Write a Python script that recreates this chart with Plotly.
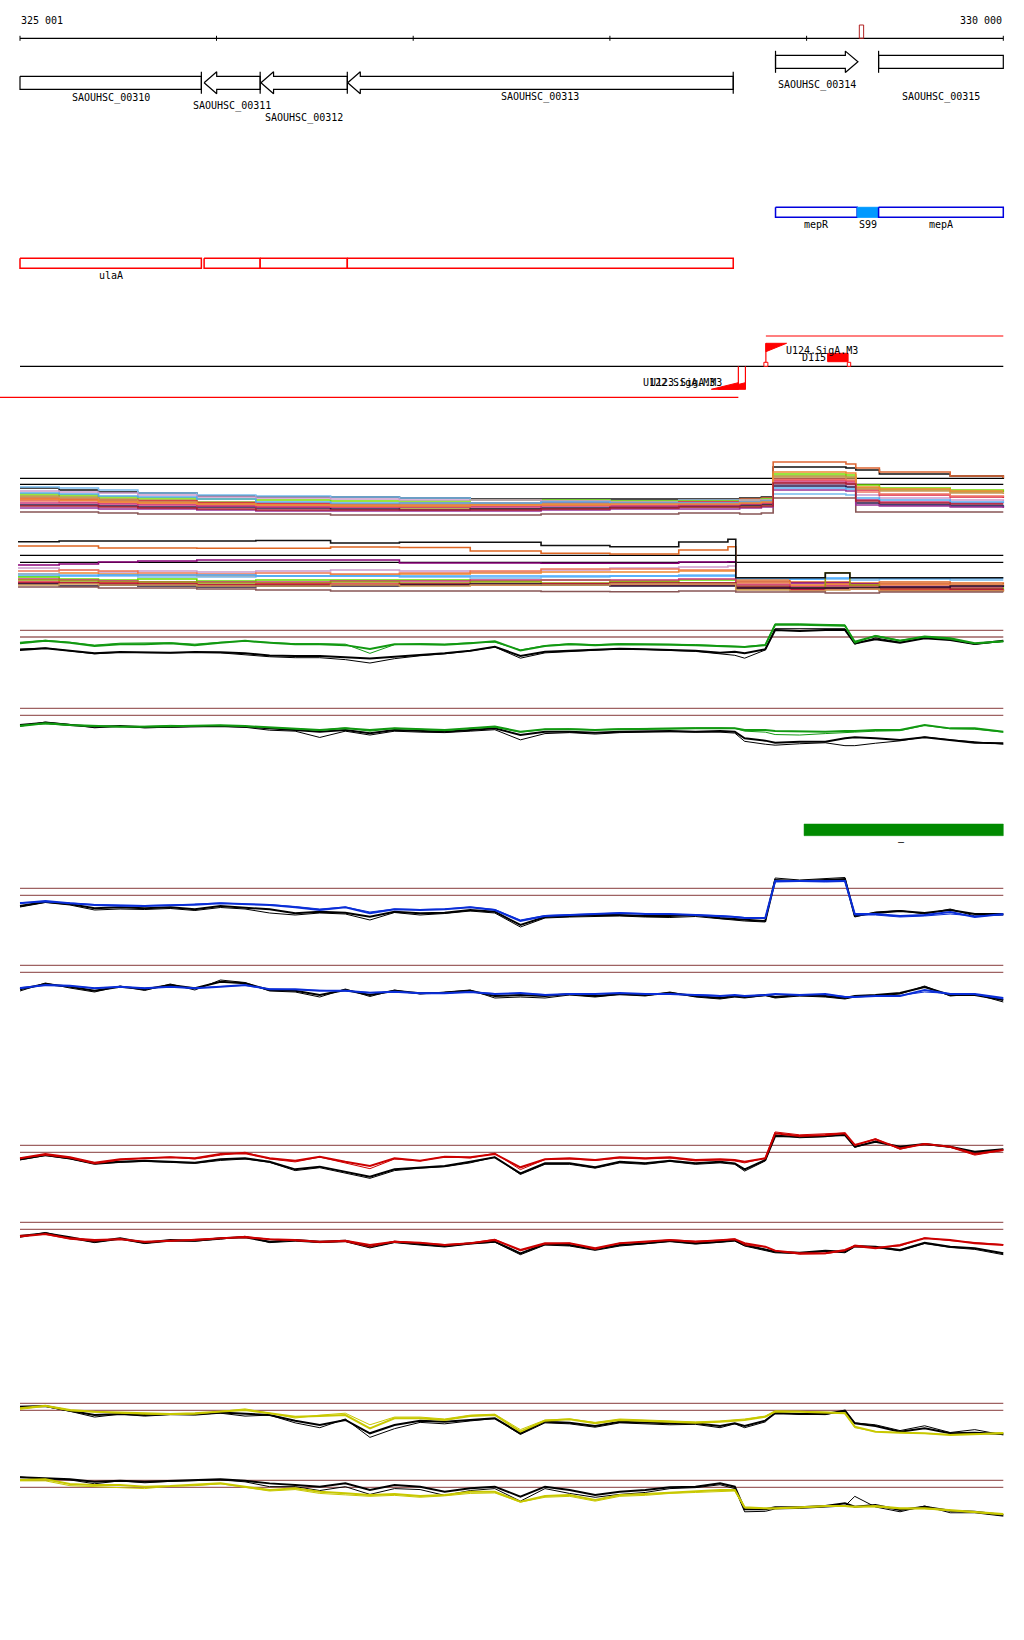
import plotly.graph_objects as go

# ======================= DATA =======================
VIEW_START, VIEW_END = 325001, 330000
RULER_TICKS = [325001, 326000, 327000, 328000, 329000, 330000]
RULER_LABEL_LEFT = "325 001"
RULER_LABEL_RIGHT = "330 000"
HIGHLIGHT = [329268, 329290]

GENE_NAMES = ["SAOUHSC_00310", "SAOUHSC_00311", "SAOUHSC_00312",
              "SAOUHSC_00313", "SAOUHSC_00314", "SAOUHSC_00315"]
GENE_START = [324500, 325937, 326226, 326667, 328842, 329366]
GENE_END = [325923, 326222, 326665, 328627, 329261, 330600]
GENE_STRAND = ["-", "-", "-", "-", "+", "+"]

REGULON_NAMES = ["mepR", "S99", "mepA"]
REGULON_START = [328842, 329257, 329366]
REGULON_END = [329257, 329366, 330600]
REGULON_FILLED = [False, True, False]

OPERON_NAMES = ["ulaA", "", "", ""]
OPERON_START = [324500, 325937, 326222, 326665]
OPERON_END = [325923, 326222, 326665, 328627]

TSS_NAMES = ["U124.SigA.M3", "U123.SigA.M3", "U122.SigA.M3"]
TSS_POS = [328793, 328689, 328653]
TSS_STRAND = ["+", "-", "-"]
TERM_NAME = "D115"
TERM_START, TERM_END = 329107, 329211
TRANSCRIPT_START = [328793, 324400]
TRANSCRIPT_END = [330000, 328653]
TRANSCRIPT_STRAND = ["+", "-"]

PEAK_START, PEAK_END = 328987, 330000
PEAK_LABEL = "–"

# --- multi-condition bundles (signal, arbitrary units) ---
BUNDLE_A_POS = [325001, 325200, 325400, 325600, 325900, 326200, 326580, 326930, 327290, 327650,
                328000, 328350, 328660, 328770, 328830, 329200, 329250, 329370, 329730, 330000]
BUNDLE_A_REF = [41.7, 35.7]
BUNDLE_A = {
    "#111111": [32,30,28,27,24,23,23,22,21,21,21,21,22,23,53,52,50,46,44,41],
    "#DD6633": [20,20,19,18,17,17,16,17,17,18,19,20,21,22,58,56,52,48,44,42],
    "#77BBEE": [33,32,30,27,25,24,23,22,20,20,19,20,20,21,26,25,20,16,15,15],
    "#77DD00": [26,25,23,22,21,20,19,19,20,20,19,19,20,21,46,45,35,32,30,28],
    "#999922": [24,23,21,20,18,15,14,12,11,11,12,13,14,15,44,43,32,30,28,28],
    "#CC99CC": [29,28,27,25,23,22,21,20,20,19,18,18,20,20,36,35,25,22,20,19],
    "#DD2244": [22,21,20,19,17,16,15,15,16,17,17,18,18,19,40,39,30,25,23,22],
    "#221144": [15,15,14,13,13,12,11,10,11,12,13,14,15,16,34,33,17,15,14,13],
    "#885555": [8,8,7,6,6,6,5,5,5,6,6,7,6,7,22,22,8,8,8,8],
    "#EE7766": [19,18,17,16,15,14,13,14,14,15,15,16,17,17,41,40,28,26,24,23],
    "#CC3377": [17,17,16,15,14,13,13,13,13,14,14,15,16,17,38,37,20,18,17,17],
    "#CC9955": [23,22,20,18,16,15,15,15,16,16,17,17,18,19,43,42,31,29,27,26],
    "#993399": [12,12,11,11,10,9,9,9,9,10,11,11,12,13,30,29,15,14,13,12],
    "#55AAEE": [27,26,24,23,21,18,17,17,17,18,17,17,18,19,32,31,22,20,18,17],
    "#EE8833": [21,20,18,17,16,15,14,14,15,15,16,16,17,18,48,47,33,31,29,29],
    "#AA2233": [14,14,13,12,11,10,10,10,10,11,12,13,13,14,37,36,19,17,16,16],
}

BUNDLE_B_POS = [324991, 325200, 325400, 325600, 325900, 326200, 326580, 326930, 327290, 327650,
                328000, 328350, 328600, 328640, 328915, 329095, 329220, 329370, 329730, 330000]
BUNDLE_B_REF = [44.7, 37.7]
BUNDLE_B = {
    "#DD6622": [54,54,52,52,51.7,51.7,53,52.5,49,46.7,46,50,53.3,20,18,18,17,18,17,16],
    "#880077": [35,36,38,39,40,40,40,37,37,36.7,36.7,38,38.3,18,17,17,16,16,15,15],
    "#CC99CC": [32,30,28,29,28,29,30,29,28,30,32,33,34,17,15,15,15,15,15,15],
    "#EE7755": [29,30,29,27,26,27,26,27,29,31,31,30,30,16,14,15,14,15,14,14],
    "#EE8833": [26,27,26,25,24,24,25,26,27,28,28,29,29,18,15,16,15,16,15,14],
    "#77BBEE": [26,25,24,23,23,24,24,23,22,23,24,25,25,21.5,21,21,20,21,20,20],
    "#44AAFF": [24,24,25,25,25,24,24,24,24,24,24,24,24,22,21,22,22,22,22,22],
    "#66DD00": [23,21,20,21,19,20,20,20,19,20,19,20,20,14,12,13,13,12,12,11],
    "#CC3377": [21,20,19,18,18,18,19,19,20,20,20,21,21,15,13,14,14,13,13,13],
    "#999911": [20,19,18,18,17,17,18,17,18,17,18,17,17,11,12,27.3,15,10,10,9],
    "#DD2233": [18,17,17,16,15,16,16,15,15,16,15,15,15,12,10,11,11,10,10,9],
    "#AA1133": [17,17,16,16,15,15,15,16,16,16,17,17,17,13,11,12,12,12,11,11],
    "#221133": [16,14,15,14,13,14,14,15,16,15,14,14,14,12,12,12,12,13,14,13],
    "#CC9955": [15,16,15,15,14,14,15,14,15,15,16,16,16,10,9,10,11,9,9,8],
    "#885555": [13,13,12,12,11,10,9,9,9,8.5,8.3,9,9,8,8,7,7,8,8,8],
    "#111111": [58.3,59,59,59,59,59.5,57,57.7,57.7,54.5,53.3,58,60.7,22.3,22.3,27,22.3,22.3,22.3,22.3],
}

# --- paired-strand profiles (signal, arbitrary units) ---
PROFILE_POS = [325001, 325130, 325255, 325380, 325510, 325635, 325765, 325890, 326020, 326145,
               326270, 326400, 326525, 326655, 326780, 326905, 327035, 327160, 327290, 327415,
               327545, 327670, 327795, 327925, 328050, 328180, 328305, 328435, 328560, 328635,
               328685, 328790, 328840, 328965, 329095, 329195, 329245, 329350, 329475, 329600,
               329730, 329855, 330000]

GREEN_TOP_REF = [29.3, 22.4]
GREEN_TOP = {
    "color": [16,18.5,16.5,13,15,15,16,14,16.5,18.5,16.5,15,15,14,10,15,15,14.5,16,18,8.5,13,15,14,15,15,14.5,14,13,12.5,12,14,35,35,34.5,34,17.5,23.5,18.5,23,21,16,18],
    "color_b": [17,19,17,14,16,16,16.5,15,17,18,17,15.5,15.5,15,5.5,14.5,15.5,15,16.5,17,9,13.5,15.5,14.5,15.5,15.5,15,14.5,13.5,13,12.5,14.5,36,36,35,35,16,24,19,22.5,20,15.5,17.5],
    "ref": [9,10.7,8.3,5.5,6.9,6.6,6.2,6.9,6.6,5.5,3.4,2.8,2.8,1.4,0.3,2.1,4.1,5.5,8.3,12.4,2.8,7.2,8.3,9.7,10.3,9.7,9,8.3,6.2,7.2,5.5,9.7,29.7,28.6,29.7,29.7,15.9,20,16.6,21,19.3,15.2,18.6],
    "ref_b": [10,11,8,5,6.5,6,6,6.5,6,4,2,1,1,-1,-4.5,0,3,5,8,12,0.5,6,7.5,9,10,9.5,8.5,7.5,5,3.5,0.5,9,31,31,31.5,31,15,21.5,17,21.5,19.5,15,18],
}
GREEN_BOT_REF = [48.6, 41.4]
GREEN_BOT = {
    "color": [30.3,33.1,31.4,30.3,29.7,29.7,30.3,30.3,31,30.3,29,27.9,26.2,27.9,26.2,27.9,26.9,26.2,27.9,29.7,24.5,26.9,26.9,26.2,26.9,27.6,27.6,27.9,27.9,27.9,26.2,26.2,25.2,24.5,24.5,25.2,25.2,26.2,26.2,31.4,27.9,27.9,24.5],
    "color_b": [31,32.5,31,30,30,30,31,30.5,31,30,28.5,27.5,26,28.5,25,28,27,25.5,28,29,24,27,27.5,26.5,27.5,28,28,28.5,28.5,28,25,24,21.5,21,22.5,23,24,25,25.5,31,27.5,27,24],
    "ref": [31.4,33.8,31.4,29.7,30.3,29,29.7,30.3,30.3,29.7,27.9,26.2,24.5,26.2,22.8,26.2,25.5,24.5,26.2,27.9,21,24.5,24.5,23.4,24.5,25.2,25.2,24.5,25.2,24.5,17.6,15.2,13.1,14.1,14.1,17.6,18.6,17.6,15.9,18.6,15.9,13.1,12.4],
    "ref_b": [30,34.5,32,28.5,30,28.5,29,30,30,29,26,25,18.5,25,21,25,24,23.5,25,26.5,16,22.5,23.5,22,23.5,24,24.5,24,24,23,14.5,11.5,10.5,12,13,10,10,12.5,15,19,16,14,11.5],
}
BLUE_TOP_REF = [41.7, 34.7]
BLUE_TOP = {
    "color": [26.7,29,26.7,25,24.3,24,24.7,25.3,26.7,25.7,25,22.7,20,22.7,16.7,20.7,20,20.7,22.7,20,9,14,15,16,17,16,16,15,14,13,12,12,49,49,48.5,49,16,16,14,15,18,13,16],
    "color_b": [27.5,28,27,25.5,25,24.5,25,26,27,26,25.5,23.5,21,23,18,21,20.5,21,23,20.5,10,14.5,15.5,16.5,17,16.5,16,15.5,14.5,13.5,12.5,12.5,48,48.5,48,48.5,15,15,13,14,16,14,15],
    "ref": [24,28.3,26,21.7,22.7,21.7,22.7,20.7,24,22.7,20.7,16.7,18.3,17.3,13.3,18.3,16.7,17.3,20,18.3,5,13,14,15,15,14,14,15,12,11,10,9,50,49,50,51,14,17,19,17,20,16,16],
    "ref_b": [23,27.5,25,20,21,20.5,21.5,19.5,22.5,21,17,15,17,16,10,17.5,15,16.5,19,17,3,12,13,13.5,14,13,12.5,13.5,11,10,9,8,52,50,51.5,52.5,13,18,19.5,16,21,14,15],
}
BLUE_BOT_REF = [44.7, 37.7]
BLUE_BOT = {
    "color": [21.7,25,24.3,21.7,23.3,21.7,23.3,21.7,23.3,25,20.7,20.7,19.3,19.3,17.3,18.3,16.7,16.7,18,16,17,15,16,16,17,16,16,15,14,15,14,15,16,15,16,13,13,14,14,20,16,16,12],
    "color_b": [22.5,24.5,24,22,23,22,23,22,23.5,24.5,21,20.5,19.5,19,17.5,18,17,17,18,16.5,16.5,15.5,15.5,16.5,16.5,16.5,15.5,15.5,14.5,14.5,14.5,14.5,15.5,15.5,15.5,13.5,13.5,13.5,14.5,18,16.5,15.5,11],
    "ref": [20.7,26,23.3,19.3,23.3,20.7,25,21.7,28.3,26.7,20,19.3,15,20,15,19.3,16.7,17.3,19.3,14,15,14,16,14,16,15,17,14,12,14,13,15,13,15,14,12,14,15,17,23,15,15,10],
    "ref_b": [19,27,22,18,24,19.5,26,20,30,27.5,19,18,13,21,13.5,20,16,18,20,12,13,12,15,13,15.5,14,18,13,11,13,12,14.5,12,14,13,11,13,14,16,24,14,16,8],
}
RED_TOP_REF = [29.1, 21.9]
RED_TOP = {
    "color": [15.7,20.2,16.7,11.2,14.7,15.7,16.7,15.7,20.2,20.9,15.7,13.3,17.4,12.2,7.8,15.7,13.3,17.4,16.7,20.2,6.4,14.7,15.7,14,16.7,15.7,16.7,14,14.7,14,12.2,15.7,41.6,38.8,39.8,41.6,29.5,35.3,26,30.5,27.8,20.2,24.3],
    "color_b": [16,19,16,10,14,16,17,15,19,22,15,12,17,11,5,15,13,17.5,16,21,4,14.5,15,13.5,16,15,16,13,14,13,11,16,43,40,41,42,29,36,25,31,27,19,24],
    "ref": [14.7,19.1,15.7,10.5,12.2,13.3,12.2,11.2,14.7,15.7,12.2,4.3,7.1,1.9,-3.3,4.3,6.4,7.8,12.2,16.7,0.2,10.5,10.5,6.4,12.2,10.5,13.3,10.5,12.2,10.5,4.3,14,38.8,38.1,38.8,39.8,27.8,32.9,27.8,30.5,27.8,22.6,25],
    "ref_b": [14,18.5,15,9.5,11.5,12.5,11.5,10.5,13.5,15,11.5,3,6,0.5,-5,3,5.5,7,11,17,-1,9.5,9.5,5.5,11,9.5,12.5,9.5,11,9.5,2.5,13,40,37,38,40.5,27,33.5,27,30,27,21,25],
}
RED_BOT_REF = [44.5, 37.2]
RED_BOT = {
    "color": [29.7,32.4,27.9,26.2,26.9,24.5,25.5,26.2,27.9,29,26.9,26.2,24.5,25.5,21,24.5,23.4,21,22.8,26.2,15.9,22.8,22.8,17.6,22.8,24.5,26.2,24.5,26.2,26.9,22.8,19.3,15.2,12.4,12.4,15.9,20,17.6,21,27.9,26.2,22.8,21],
    "color_b": [31,32,27,25,27.5,24,25,27,28,30,27,25.5,24,24.5,19,25,23,21.5,23,27,15,22,23,16.5,23,24,26.5,25,26,27.5,21,19,15,11.5,12,15,21,18.5,20,28.5,25.5,23.5,21.5],
    "ref": [30.3,33.1,29,24.5,27.9,23.4,26.2,25.5,27.9,29,24.5,26.2,24.5,25.5,19.3,24.5,22.1,20,22.8,24.5,12.4,22.1,21,16.6,21,22.8,25.5,22.8,24.5,26.2,21,16.6,14.1,13.1,15.2,14.1,20,19.3,15.9,23.4,19.3,17.6,12.4],
    "ref_b": [29,34,28,23.5,27,22.5,25,25,27,30,23.5,25,23.5,24.5,18,23.5,21,19,22,24,11,21,20,15.5,20,22,24.5,22,23.5,25,20,15.5,13,12,14.5,13,19,18.5,15,22.5,18.5,16.5,11],
}
YELLOW_TOP_REF = [36.2, 29.0]
YELLOW_TOP = {
    "color": [31,33.8,29.3,27.6,26.6,25.9,25.2,25.9,27.6,29.3,25.9,22.4,23.1,24.1,10.3,20.7,20.7,19,23.1,24.1,6.9,18.3,19.7,15.5,19,18.3,17.2,16.2,17.2,18.3,19,22.4,27.6,27.6,26.6,25.9,12.1,6.9,5.9,5.2,3.4,4.5,5.2],
    "color_b": [30,33,28.5,27,26,25,24.5,25,28,30.5,26,21,24,26,14,22,22,20,24,25,9,19,20,16.5,20,19,18,17,18,19,20,23,28.5,28,27,26.5,11,7,6,5,4,4.5,6],
    "ref": [32.8,33.4,28.6,24.1,25.2,24.1,25.2,25.2,26.6,25.2,24.1,18.3,13.8,19,5.2,13.8,18.3,17.2,19,20.7,5.2,17.2,16.2,12.8,17.2,16.2,15.5,15.5,12.8,15.5,12.8,18.3,25.9,25.2,25.2,28.6,15.5,12.8,6.9,10.3,5.2,5.9,4.5],
    "ref_b": [33,33,28,22,25,23,24.5,24,26,23,24,16,11,20,1,10,16.5,15,18,20.5,4,16,15,11.5,16,15,14,14.5,11,15,11,17,27,25,24.5,29,16,14,8,13,6,9,3.5],
}
YELLOW_BOT_REF = [41.6, 34.3]
YELLOW_BOT = {
    "color": [41.9,42.6,37.8,36.7,36.7,35,35.7,36.7,38.4,35,31.6,33.3,29.8,28.1,26.4,27.4,25.3,26.4,29.8,29.8,19.5,25.3,26.4,21.2,26.4,27.4,28.8,29.8,31.6,31.6,13.6,12.6,12.6,13.6,15,15,14.3,15,12.6,12.6,10.9,9.1,6.7],
    "color_b": [41,41,36,35,34,33,35.5,36,38,34,30.5,32,28,26.5,25,26,24,25.5,28,28.5,19,24,25,20,25,26,28,29,30,30.5,13,12,12,13,14.5,14.5,14,14,12,12,10,8.5,6],
    "ref": [44.7,43.6,42.6,40.2,41.2,40.2,41.2,41.9,42.6,41.2,38.4,36.7,35,38.4,31.6,36.7,35,29.8,33.3,35,24.7,35,31.6,26.4,29.8,31.6,34.3,35,38.4,35,11.6,11.6,13.6,13.6,15,17.8,14.3,16,10.9,14.3,10.2,9.1,5.7],
    "ref_b": [45,43,42,38,41,39,40.5,41,42,40,35,35,31,35,27,33,32,26,31,33,20,33,28,24,27,29,33,34,37,33,9,9.5,12,12.5,14,15,25,14,9,15,8,8,4.5],
}

# ======================= LAYOUT CONSTANTS =======================
W, H = 1024, 1640
PX_L, PX_R = 20.0, 1003.3
BPP = (VIEW_END - VIEW_START) / (PX_R - PX_L)     # bp per pixel
X0 = VIEW_START - PX_L * BPP
X1 = X0 + W * BPP
FONT = "DejaVu Sans Mono"
BROWN = "#9E6262"

RULER_Y = 38.3
GENE_ROW_Y = {"-": 82.8, "+": 61.8}
GENE_LABEL_Y = [97.7, 106.3, 117.7, 97.3, 85.3, 97.3]
REG_BOX = (207.3, 217.3)
REG_LABEL_Y = 224.3
OPER_BOX = (258.3, 268.3)
OPER_LABEL_Y = 275.3
TSS_LINE_Y = 366.3
TRANSCRIPT_Y = {"+": 336.0, "-": 397.3}

fig = go.Figure()
annotations = []
extra_axes = {}
_axn = [1]


def new_axis(anchor_v, anchor_px, ppu, lo, hi):
    _axn[0] += 1
    n = _axn[0]
    yb = anchor_px + (anchor_v - lo) * ppu
    yt = anchor_px + (anchor_v - hi) * ppu
    extra_axes["yaxis%d" % n] = dict(domain=[1 - yb / H, 1 - yt / H], range=[lo, hi],
                                     anchor="x", visible=False, fixedrange=True)
    return "y%d" % n


def line(xs, ys, color, width=1.0, yaxis="y", shape="linear"):
    fig.add_trace(go.Scatter(x=xs, y=ys, mode="lines", yaxis=yaxis,
                             line=dict(color=color, width=width, shape=shape),
                             hoverinfo="skip", showlegend=False))


def poly(xs, ys, edge, fill, width=1.2):
    fig.add_trace(go.Scatter(x=list(xs) + [xs[0]], y=list(ys) + [ys[0]], mode="lines",
                             fill="toself", fillcolor=fill,
                             line=dict(color=edge, width=width),
                             hoverinfo="skip", showlegend=False))


def text(x, y, s, anchor="center", color="black", size=10):
    annotations.append(dict(x=x, y=y, xref="x", yref="y", text=s, showarrow=False,
                            xanchor=anchor, yanchor="middle", borderpad=0,
                            font=dict(family=FONT, size=size, color=color)))


def clip(a, b):
    return max(a, VIEW_START), min(b, VIEW_END)


# ---------------- ruler ----------------
line([VIEW_START, VIEW_END], [RULER_Y, RULER_Y], "black", 1.2)
for t in RULER_TICKS:
    line([t, t], [RULER_Y - 2.5, RULER_Y + 2.5], "black", 1)
text(VIEW_START, 20, RULER_LABEL_LEFT, "left")
text(VIEW_END, 20, RULER_LABEL_RIGHT, "right")
poly([HIGHLIGHT[0], HIGHLIGHT[1], HIGHLIGHT[1], HIGHLIGHT[0]],
     [25, 25, RULER_Y, RULER_Y], "#B22222", "rgba(0,0,0,0)", 1)

# ---------------- genes ----------------
HEAD = 12.6 * BPP
for name, s, e, strand, ly in zip(GENE_NAMES, GENE_START, GENE_END, GENE_STRAND, GENE_LABEL_Y):
    cy = GENE_ROW_Y[strand]
    lo, hi = clip(s, e)
    if strand == "-" and s >= VIEW_START:
        xs = [lo, lo + HEAD, lo + HEAD, hi, hi, lo + HEAD, lo + HEAD]
        ys = [cy, cy - 11, cy - 6.5, cy - 6.5, cy + 6.5, cy + 6.5, cy + 11]
    elif strand == "+" and e <= VIEW_END:
        xs = [lo, hi - HEAD, hi - HEAD, hi, hi - HEAD, hi - HEAD, lo]
        ys = [cy - 6.5, cy - 6.5, cy - 10.7, cy, cy + 10.7, cy + 6.5, cy + 6.5]
    else:
        xs = [lo, hi, hi, lo]
        ys = [cy - 6.5, cy - 6.5, cy + 6.5, cy + 6.5]
    poly(xs, ys, "black", "white", 1.2)
    start = e if strand == "-" else s
    if VIEW_START <= start <= VIEW_END:
        line([start, start], [cy - 11, cy + 11], "black", 1.2)
    text((lo + hi) / 2, ly, name)

# ---------------- regulon features (blue) ----------------
for name, s, e, filled in zip(REGULON_NAMES, REGULON_START, REGULON_END, REGULON_FILLED):
    lo, hi = clip(s, e)
    y0, y1 = REG_BOX
    if filled:
        poly([lo, hi, hi, lo], [y0, y0, y1, y1], "#0099FF", "#0099FF", 1)
    else:
        poly([lo, hi, hi, lo], [y0, y0, y1, y1], "#0000DD", "white", 1.5)
    text((lo + hi) / 2, REG_LABEL_Y, name)

# ---------------- operon features (red) ----------------
for name, s, e in zip(OPERON_NAMES, OPERON_START, OPERON_END):
    lo, hi = clip(s, e)
    y0, y1 = OPER_BOX
    poly([lo, hi, hi, lo], [y0, y0, y1, y1], "#FF0000", "white", 1.5)
    if name:
        text((lo + hi) / 2, OPER_LABEL_Y, name)

# ---------------- transcription start sites ----------------
line([VIEW_START, VIEW_END], [TSS_LINE_Y, TSS_LINE_Y], "black", 1.2)
for s, e, strand in zip(TRANSCRIPT_START, TRANSCRIPT_END, TRANSCRIPT_STRAND):
    ty = TRANSCRIPT_Y[strand]
    line([s, e], [ty, ty], "#FF0000", 1.2)
SQ = 2.0 * BPP
for name, pos, strand in zip(TSS_NAMES, TSS_POS, TSS_STRAND):
    if strand == "+":
        top = TSS_LINE_Y - 23
        line([pos, pos], [top, TSS_LINE_Y], "#FF0000", 1.2)
        poly([pos, pos + 20.7 * BPP, pos], [top, top, top + 8.4], "#FF0000", "#FF0000", 1)
        poly([pos - SQ, pos + SQ, pos + SQ, pos - SQ],
             [TSS_LINE_Y - 4, TSS_LINE_Y - 4, TSS_LINE_Y, TSS_LINE_Y], "#FF0000", "white", 1)
        text(pos + 19 * BPP, top + 7, name, "left")
    else:
        bot = TSS_LINE_Y + 23
        line([pos, pos], [TSS_LINE_Y, bot], "#FF0000", 1.2)
        poly([pos, pos - 27 * BPP, pos], [bot, bot, bot - 6.6], "#FF0000", "#FF0000", 1)
        text(pos - 22 * BPP, bot - 6.6, name, "right")
poly([TERM_START, TERM_END, TERM_END, TERM_START], [353.3, 353.3, 361.7, 361.7],
     "#FF0000", "#FF0000", 1)
poly([TERM_END - SQ * 0.4, TERM_END + SQ * 1.3, TERM_END + SQ * 1.3, TERM_END - SQ * 0.4],
     [TSS_LINE_Y - 4, TSS_LINE_Y - 4, TSS_LINE_Y, TSS_LINE_Y], "#FF0000", "white", 1)
text(TERM_START - 1 * BPP, 357.3, TERM_NAME, "right")

# ---------------- bundles ----------------
ya = new_axis(0, 520, 1.0, -2, 64)
for v in BUNDLE_A_REF:
    line([VIEW_START, VIEW_END], [v, v], "black", 1.3, ya)
for col, vals in BUNDLE_A.items():
    line(BUNDLE_A_POS, vals, col, 1.6, ya, "hv")

yb = new_axis(0, 600, 1.0, 2, 66)
for v in BUNDLE_B_REF:
    line([VIEW_START, VIEW_END], [v, v], "black", 1.3, yb)
for col, vals in BUNDLE_B.items():
    line(BUNDLE_B_POS, vals, col, 1.6, yb, "hv")

# ---------------- green bar (peak) ----------------
poly([PEAK_START, PEAK_END, PEAK_END, PEAK_START], [824, 824, 835.7, 835.7],
     "#008A00", "#008A00", 0.5)
text((PEAK_START + PEAK_END) / 2 - 2 * BPP, 841.3, PEAK_LABEL)

# ---------------- paired profiles ----------------
PPU = 2.9 / 3.0
PANELS = [
    (GREEN_TOP, GREEN_TOP_REF, "#119911", (40, 620, PPU, -10, 45)),
    (GREEN_BOT, GREEN_BOT_REF, "#119911", (140, 620, PPU, 5, 55)),
    (BLUE_TOP, BLUE_TOP_REF, "#0A2ED8", (0, 930, 1.0, -5, 60)),
    (BLUE_BOT, BLUE_BOT_REF, "#0A2ED8", (0, 1010, 1.0, 0, 50)),
    (RED_TOP, RED_TOP_REF, "#CC0000", (45, 1130, PPU, -10, 50)),
    (RED_BOT, RED_BOT_REF, "#CC0000", (140, 1130, PPU, 5, 50)),
    (YELLOW_TOP, YELLOW_TOP_REF, "#C8C800", (50, 1390, PPU, -2, 40)),
    (YELLOW_BOT, YELLOW_BOT_REF, "#C8C800", (135, 1390, PPU, 0, 50)),
]
for series, refs, col, ax in PANELS:
    yax = new_axis(*ax)
    for v in refs:
        line([VIEW_START, VIEW_END], [v, v], BROWN, 1.3, yax)
    line(PROFILE_POS, series["ref_b"], "black", 1.0, yax)
    line(PROFILE_POS, series["ref"], "black", 2.0, yax)
    line(PROFILE_POS, series["color_b"], col, 1.0, yax)
    line(PROFILE_POS, series["color"], col, 2.0, yax)

fig.update_layout(
    width=W, height=H, margin=dict(l=0, r=0, t=0, b=0, pad=0),
    paper_bgcolor="white", plot_bgcolor="white", showlegend=False,
    xaxis=dict(range=[X0, X1], visible=False, fixedrange=True, domain=[0, 1]),
    yaxis=dict(range=[H, 0], visible=False, fixedrange=True, domain=[0, 1]),
    annotations=annotations,
    **extra_axes,
)
fig.write_html("out.html", config={"displayModeBar": False},
               post_script="document.body.style.margin='0';document.body.style.overflow='hidden';")
